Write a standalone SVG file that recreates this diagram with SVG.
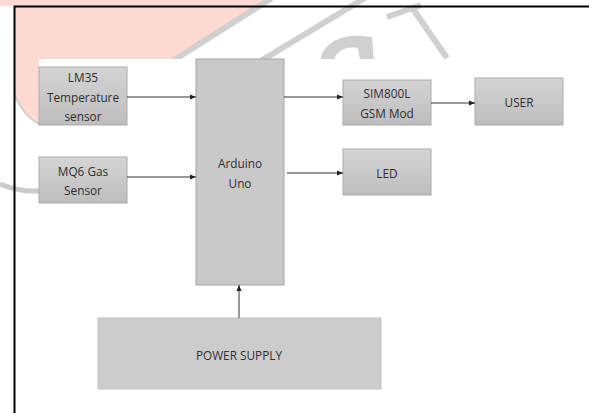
<svg xmlns="http://www.w3.org/2000/svg" width="589" height="413" viewBox="0 0 589 413">
<defs>
<linearGradient id="g" x1="0" y1="0" x2="0" y2="1">
<stop offset="0" stop-color="#d4d4d4"/>
<stop offset="1" stop-color="#bdbdbd"/>
</linearGradient>
<marker id="ah" viewBox="0 0 6 6" refX="6" refY="3" markerWidth="6" markerHeight="6" markerUnits="userSpaceOnUse" orient="auto">
<path d="M0,0.5 L6,3 L0,5.5 Z" fill="#222"/>
</marker>
</defs>
<style>
.box{fill:url(#g);stroke:#ababab;stroke-width:1}
.t{font-family:"Open Sans","Liberation Sans",sans-serif;font-size:11.8px;fill:#2e2e2e;text-anchor:middle;dominant-baseline:central}
.c{stroke:#333;stroke-width:1;fill:none;marker-end:url(#ah)}
.wm{stroke:#d0d0d0;stroke-width:6;fill:none}
</style>
<rect width="589" height="413" fill="#fff"/>
<g id="watermark">
<path d="M0,0 H272 L172,62 H39 V124 C28,118 18,106 14,92 V6 H0 Z" fill="#fddad1"/>
<path class="wm" d="M272,-2 L174,60"/>
<path class="wm" d="M365,-2 L259,62"/>
<path d="M320,62 C322,44 340,34 362,36 L372,37 L374,62 Z M334,60 C336,50 348,46 358,48 L360,60 Z" fill="#d0d0d0" fill-rule="evenodd"/>
<path class="wm" d="M387,17 L421,5"/>
<path class="wm" d="M413,9 L447,58"/>
<path d="M39,124 C28,118 18,106 14,92" stroke="#d0d0d0" stroke-width="2" fill="none"/>
<path d="M0,184 Q20,192 39,191" stroke="#cbcbcb" stroke-width="5" fill="none"/>
</g>
<rect x="39" y="59" width="550" height="354" fill="#fff"/>
<g id="frame">
<path d="M589,6.5 H14.5 V413" stroke="#000" stroke-width="2" fill="none"/>
</g>
<g id="lm35">
<rect class="box" x="39" y="67" width="88" height="58"/>
<text class="t" x="83" y="77">LM35</text>
<text class="t" x="83" y="96.5">Temperature</text>
<text class="t" x="83" y="116">sensor</text>
</g>
<g id="mq6">
<rect class="box" x="39" y="157" width="88" height="46"/>
<text class="t" x="83" y="171">MQ6 Gas</text>
<text class="t" x="83" y="190">Sensor</text>
</g>
<g id="arduino">
<rect class="box" x="196" y="59" width="88" height="226" style="fill:#c9c9c9;stroke:#a6a6a6"/>
<text class="t" x="240" y="163">Arduino</text>
<text class="t" x="240" y="183">Uno</text>
</g>
<g id="sim800l">
<rect class="box" x="343" y="80" width="88" height="45"/>
<text class="t" x="387" y="93">SIM800L</text>
<text class="t" x="387" y="112.5">GSM Mod</text>
</g>
<g id="user">
<rect class="box" x="475" y="78" width="88" height="47"/>
<text class="t" x="519" y="102">USER</text>
</g>
<g id="led">
<rect class="box" x="343" y="149" width="88" height="46"/>
<text class="t" x="387" y="173">LED</text>
</g>
<g id="power">
<rect class="box" x="98" y="318" width="283" height="71" style="fill:#cccccc;stroke:#c4c4c4"/>
<text class="t" x="239" y="355">POWER SUPPLY</text>
</g>
<g id="connectors">
<path class="c" d="M127,97 H196"/>
<path class="c" d="M127,177 H196"/>
<path class="c" d="M284,97 H343"/>
<path class="c" d="M431,103 H475"/>
<path class="c" d="M287,173 H343"/>
<path class="c" d="M239,318 V285"/>
</g>
</svg>
